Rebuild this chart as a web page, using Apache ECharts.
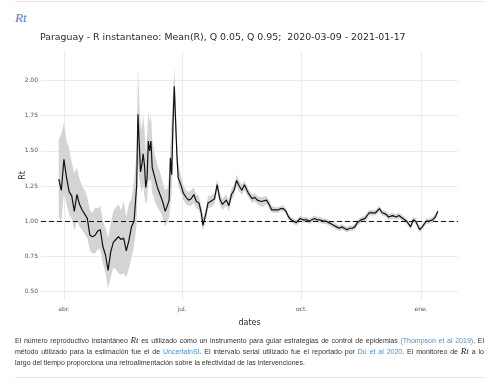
<!DOCTYPE html>
<html><head><meta charset="utf-8">
<script src="https://cdn.jsdelivr.net/npm/echarts@6/dist/echarts.min.js"></script>
<style>
html,body{margin:0;padding:0;background:#fff;width:500px;height:384px;overflow:hidden;}
#wrap{position:relative;width:500px;height:384px;}
#chart{position:absolute;left:0;top:0;width:500px;height:384px;}
.rule{position:absolute;left:15px;width:470px;height:0;border-top:1px solid #e6e6e6;}
#hdr{position:absolute;left:15px;top:10px;font-family:'Liberation Serif','DejaVu Serif',serif;font-style:italic;font-size:13px;color:#4a7fbf;}
#para{position:absolute;left:15px;top:335px;width:469px;font-family:'Liberation Sans',Arial,sans-serif;font-size:7px;line-height:11px;color:#333;}
.ln{white-space:nowrap;text-align:justify;text-align-last:justify;}
.ln.last{text-align-last:left;}
a{color:#4a90d9;text-decoration:none;}
.m{font-family:'Liberation Serif','DejaVu Serif',serif;font-style:italic;font-size:9px;color:#222;}
</style></head>
<body>
<div id="wrap">
<div class="rule" style="top:1px"></div>
<div id="hdr">Rt</div>
<div id="chart"></div>
<div id="para">
<div class="ln">El número reproductivo instantáneo <span class="m">Rt</span> es utilizado como un instrumento para guiar estrategias de control de epidemias <a>(Thompson et al 2019)</a>. El</div>
<div class="ln">método utilizado para la estimación fue el de <a>UncertainSI</a>. El intervalo serial utilizado fue el reportado por <a>Du et al 2020</a>. El monitoreo de <span class="m">Rt</span> a lo</div>
<div class="ln last">largo del tiempo proporciona una retroalimentación sobre la efectividad de las intervenciones.</div>
</div>
<div class="rule" style="top:377px"></div>
</div>
<script>
const titleText = 'Paraguay - R instantaneo: Mean(R), Q 0.05, Q 0.95;  2020-03-09 - 2021-01-17';
const monthLabels = ['ene.','feb.','mar.','abr.','may.','jun.','jul.','ago.','sep.','oct.','nov.','dic.'];
const yTicks = [0.5, 0.75, 1.0, 1.25, 1.5, 1.75, 2.0];
const xTicks = ['2020-04-01', '2020-07-01', '2020-10-01', '2021-01-01'];

const dates = [
'2020-03-28','2020-03-30','2020-04-01','2020-04-03','2020-04-05','2020-04-07','2020-04-09','2020-04-11','2020-04-13','2020-04-15',
'2020-04-17','2020-04-19','2020-04-21','2020-04-23','2020-04-25','2020-04-27','2020-04-29','2020-05-01','2020-05-03','2020-05-05',
'2020-05-07','2020-05-09','2020-05-11','2020-05-13','2020-05-15','2020-05-17','2020-05-19','2020-05-21','2020-05-23','2020-05-25',
'2020-05-27','2020-05-28','2020-05-29','2020-05-30','2020-05-31','2020-06-01','2020-06-02','2020-06-03','2020-06-04','2020-06-05',
'2020-06-06','2020-06-07','2020-06-08','2020-06-10','2020-06-12','2020-06-14','2020-06-16','2020-06-18','2020-06-20','2020-06-21',
'2020-06-22','2020-06-23','2020-06-24','2020-06-25','2020-06-26','2020-06-27','2020-06-28','2020-06-30','2020-07-02','2020-07-04',
'2020-07-06','2020-07-08','2020-07-10','2020-07-12','2020-07-14','2020-07-16','2020-07-17','2020-07-19','2020-07-21','2020-07-23',
'2020-07-26','2020-07-28','2020-07-30','2020-08-01','2020-08-04','2020-08-06','2020-08-08','2020-08-10','2020-08-12','2020-08-14',
'2020-08-16','2020-08-18','2020-08-21','2020-08-24','2020-08-26','2020-08-28','2020-08-31','2020-09-01','2020-09-04','2020-09-06',
'2020-09-08','2020-09-11','2020-09-13','2020-09-15','2020-09-17','2020-09-19','2020-09-21','2020-09-23','2020-09-25','2020-09-27',
'2020-09-30','2020-10-02','2020-10-05','2020-10-07','2020-10-09','2020-10-11','2020-10-13','2020-10-15','2020-10-18','2020-10-20',
'2020-10-22','2020-10-24','2020-10-26','2020-10-28','2020-10-30','2020-11-01','2020-11-03','2020-11-05','2020-11-07','2020-11-09',
'2020-11-11','2020-11-13','2020-11-16','2020-11-19','2020-11-22','2020-11-24','2020-11-27','2020-11-30','2020-12-02','2020-12-05',
'2020-12-07','2020-12-10','2020-12-13','2020-12-15','2020-12-18','2020-12-21','2020-12-24','2020-12-26','2020-12-28','2020-12-31',
'2021-01-02','2021-01-05','2021-01-07','2021-01-10','2021-01-12','2021-01-14'
];
const rMean = [
1.30,1.22,1.44,1.31,1.21,1.18,1.07,1.19,1.12,1.08,
1.05,1.02,0.90,0.89,0.90,0.93,0.94,0.82,0.76,0.65,
0.78,0.85,0.87,0.89,0.87,0.88,0.79,0.86,0.96,1.00,
1.25,1.76,1.55,1.35,1.40,1.48,1.40,1.24,1.30,1.57,
1.50,1.57,1.38,1.31,1.24,1.19,1.14,1.07,1.12,1.15,
1.45,1.33,1.70,1.96,1.71,1.47,1.31,1.26,1.20,1.17,
1.15,1.16,1.19,1.14,1.13,1.05,0.97,1.04,1.13,1.14,
1.16,1.26,1.16,1.12,1.15,1.11,1.19,1.22,1.29,1.25,
1.22,1.26,1.20,1.16,1.17,1.15,1.14,1.13,1.15,1.12,
1.08,1.08,1.08,1.09,1.09,1.07,1.03,1.01,1.00,0.99,
1.02,1.01,1.01,1.00,1.01,1.02,1.01,1.01,1.00,1.00,
0.99,0.98,0.97,0.96,0.95,0.96,0.95,0.94,0.95,0.95,
0.96,0.99,1.01,1.02,1.06,1.06,1.06,1.09,1.06,1.05,
1.03,1.04,1.03,1.04,1.02,1.00,0.96,1.01,1.00,0.94,
0.96,1.00,1.00,1.01,1.03,1.07
];
const rLow = [
1.03,1.00,1.20,1.12,1.05,1.02,0.93,1.00,0.96,0.94,
0.91,0.88,0.79,0.77,0.77,0.80,0.80,0.70,0.63,0.52,
0.60,0.67,0.66,0.63,0.62,0.63,0.60,0.66,0.74,0.82,
0.98,1.42,1.30,1.19,1.20,1.26,1.18,1.12,1.14,1.30,
1.28,1.30,1.20,1.14,1.10,1.07,1.03,0.96,1.00,1.03,
1.20,1.20,1.50,1.80,1.60,1.38,1.25,1.20,1.15,1.12,
1.11,1.11,1.13,1.09,1.08,1.00,0.93,0.99,1.09,1.10,
1.12,1.22,1.12,1.08,1.11,1.07,1.15,1.18,1.25,1.21,
1.19,1.22,1.17,1.13,1.14,1.12,1.11,1.10,1.12,1.09,
1.06,1.06,1.06,1.07,1.07,1.05,1.01,0.99,0.98,0.97,
1.00,0.99,0.99,0.98,0.99,1.00,0.99,0.99,0.98,0.98,
0.97,0.96,0.95,0.94,0.93,0.94,0.93,0.92,0.93,0.93,
0.94,0.97,0.99,1.00,1.04,1.04,1.04,1.07,1.04,1.03,
1.01,1.02,1.01,1.02,1.00,0.98,0.94,0.99,0.98,0.92,
0.94,0.98,0.98,0.99,1.01,1.05
];
const rHigh = [
1.58,1.62,1.70,1.57,1.52,1.42,1.34,1.38,1.30,1.25,
1.22,1.17,1.08,1.06,1.10,1.09,1.11,1.00,0.95,0.88,
0.98,1.07,1.10,1.12,1.08,1.14,1.03,1.12,1.16,1.28,
1.50,2.09,1.85,1.70,1.65,1.76,1.66,1.48,1.60,1.78,
1.70,1.76,1.58,1.47,1.40,1.35,1.28,1.22,1.24,1.35,
1.55,1.55,1.92,2.10,1.85,1.60,1.42,1.33,1.26,1.22,
1.21,1.22,1.24,1.19,1.18,1.10,1.02,1.08,1.18,1.18,
1.20,1.30,1.20,1.16,1.19,1.15,1.23,1.26,1.33,1.29,
1.26,1.29,1.23,1.19,1.20,1.18,1.17,1.16,1.18,1.15,
1.11,1.10,1.10,1.11,1.11,1.09,1.05,1.03,1.02,1.01,
1.04,1.03,1.03,1.02,1.03,1.04,1.03,1.03,1.02,1.02,
1.01,1.00,0.99,0.98,0.97,0.98,0.97,0.96,0.97,0.97,
0.98,1.01,1.03,1.04,1.08,1.08,1.08,1.11,1.08,1.07,
1.05,1.06,1.05,1.06,1.04,1.02,0.98,1.03,1.02,0.96,
0.98,1.02,1.02,1.03,1.05,1.09
];

const DAY = 24 * 3600 * 1000;
const FONT = "'DejaVu Sans', Verdana, sans-serif";
const GRID = '#ebebeb';
const gridLines = yTicks.map(v => ({yAxis: v})).concat(xTicks.map(d => ({xAxis: d})));

const chart = echarts.init(document.getElementById('chart'), null, {renderer: 'canvas'});
chart.setOption({
  animation: false,
  backgroundColor: 'transparent',
  title: {
    text: titleText, left: 35, top: 28,
    textStyle: {fontFamily: FONT, fontSize: 9.4, fontWeight: 'normal', color: '#2a2a2a'}
  },
  grid: {left: 41, right: 42, top: 51, bottom: 84, containLabel: false},
  xAxis: {
    type: 'time',
    min: '2020-03-14 08:00:00', max: '2021-01-29 12:00:00',
    minInterval: 95 * DAY, maxInterval: 95 * DAY, splitNumber: 3,
    axisLine: {show: false}, axisTick: {show: false},
    splitLine: {show: false},
    axisLabel: {
      formatter: function (v) { return monthLabels[new Date(v).getMonth()]; },
      fontFamily: FONT, fontSize: 6, color: '#555', margin: 6, hideOverlap: false
    },
    name: 'dates', nameLocation: 'middle', nameGap: 19, nameMoveOverlap: false,
    nameTextStyle: {fontFamily: FONT, fontSize: 8, color: '#2a2a2a'}
  },
  yAxis: {
    type: 'value', min: 0.44, max: 2.21,
    minInterval: 0.25, maxInterval: 0.25,
    axisLine: {show: false}, axisTick: {show: false},
    splitLine: {show: false},
    axisLabel: {
      showMinLabel: false, showMaxLabel: false,
      formatter: function (v) { return yTicks.some(t => Math.abs(t - v) < 1e-6) ? v.toFixed(2) : ''; },
      fontFamily: FONT, fontSize: 6, color: '#555', margin: 3
    },
    name: 'Rt', nameLocation: 'middle', nameGap: 14, nameRotate: 90, nameMoveOverlap: false,
    nameTextStyle: {fontFamily: FONT, fontSize: 8, color: '#2a2a2a'}
  },
  series: [
    {
      type: 'line', stack: 'band', symbol: 'none', silent: true,
      data: dates.map((d, i) => [d, rLow[i]]),
      lineStyle: {opacity: 0}, z: 0,
      markLine: {
        silent: true, symbol: ['none', 'none'], label: {show: false}, z: 0,
        lineStyle: {color: GRID, type: 'solid', width: 1},
        emphasis: {disabled: true},
        data: gridLines
      }
    },
    {
      type: 'line', stack: 'band', symbol: 'none', silent: true,
      data: dates.map((d, i) => [d, +(rHigh[i] - rLow[i]).toFixed(3)]),
      lineStyle: {opacity: 0}, areaStyle: {color: '#d4d4d4', opacity: 1}, z: 1
    },
    {
      type: 'line', symbol: 'none', silent: true,
      data: dates.map((d, i) => [d, rMean[i]]),
      lineStyle: {color: '#111', width: 1.2}, z: 3,
      markLine: {
        silent: true, symbol: ['none', 'none'], label: {show: false},
        lineStyle: {color: '#111', type: [5, 3], width: 1.1},
        data: [{yAxis: 1}]
      }
    }
  ]
});
</script>
</body></html>
